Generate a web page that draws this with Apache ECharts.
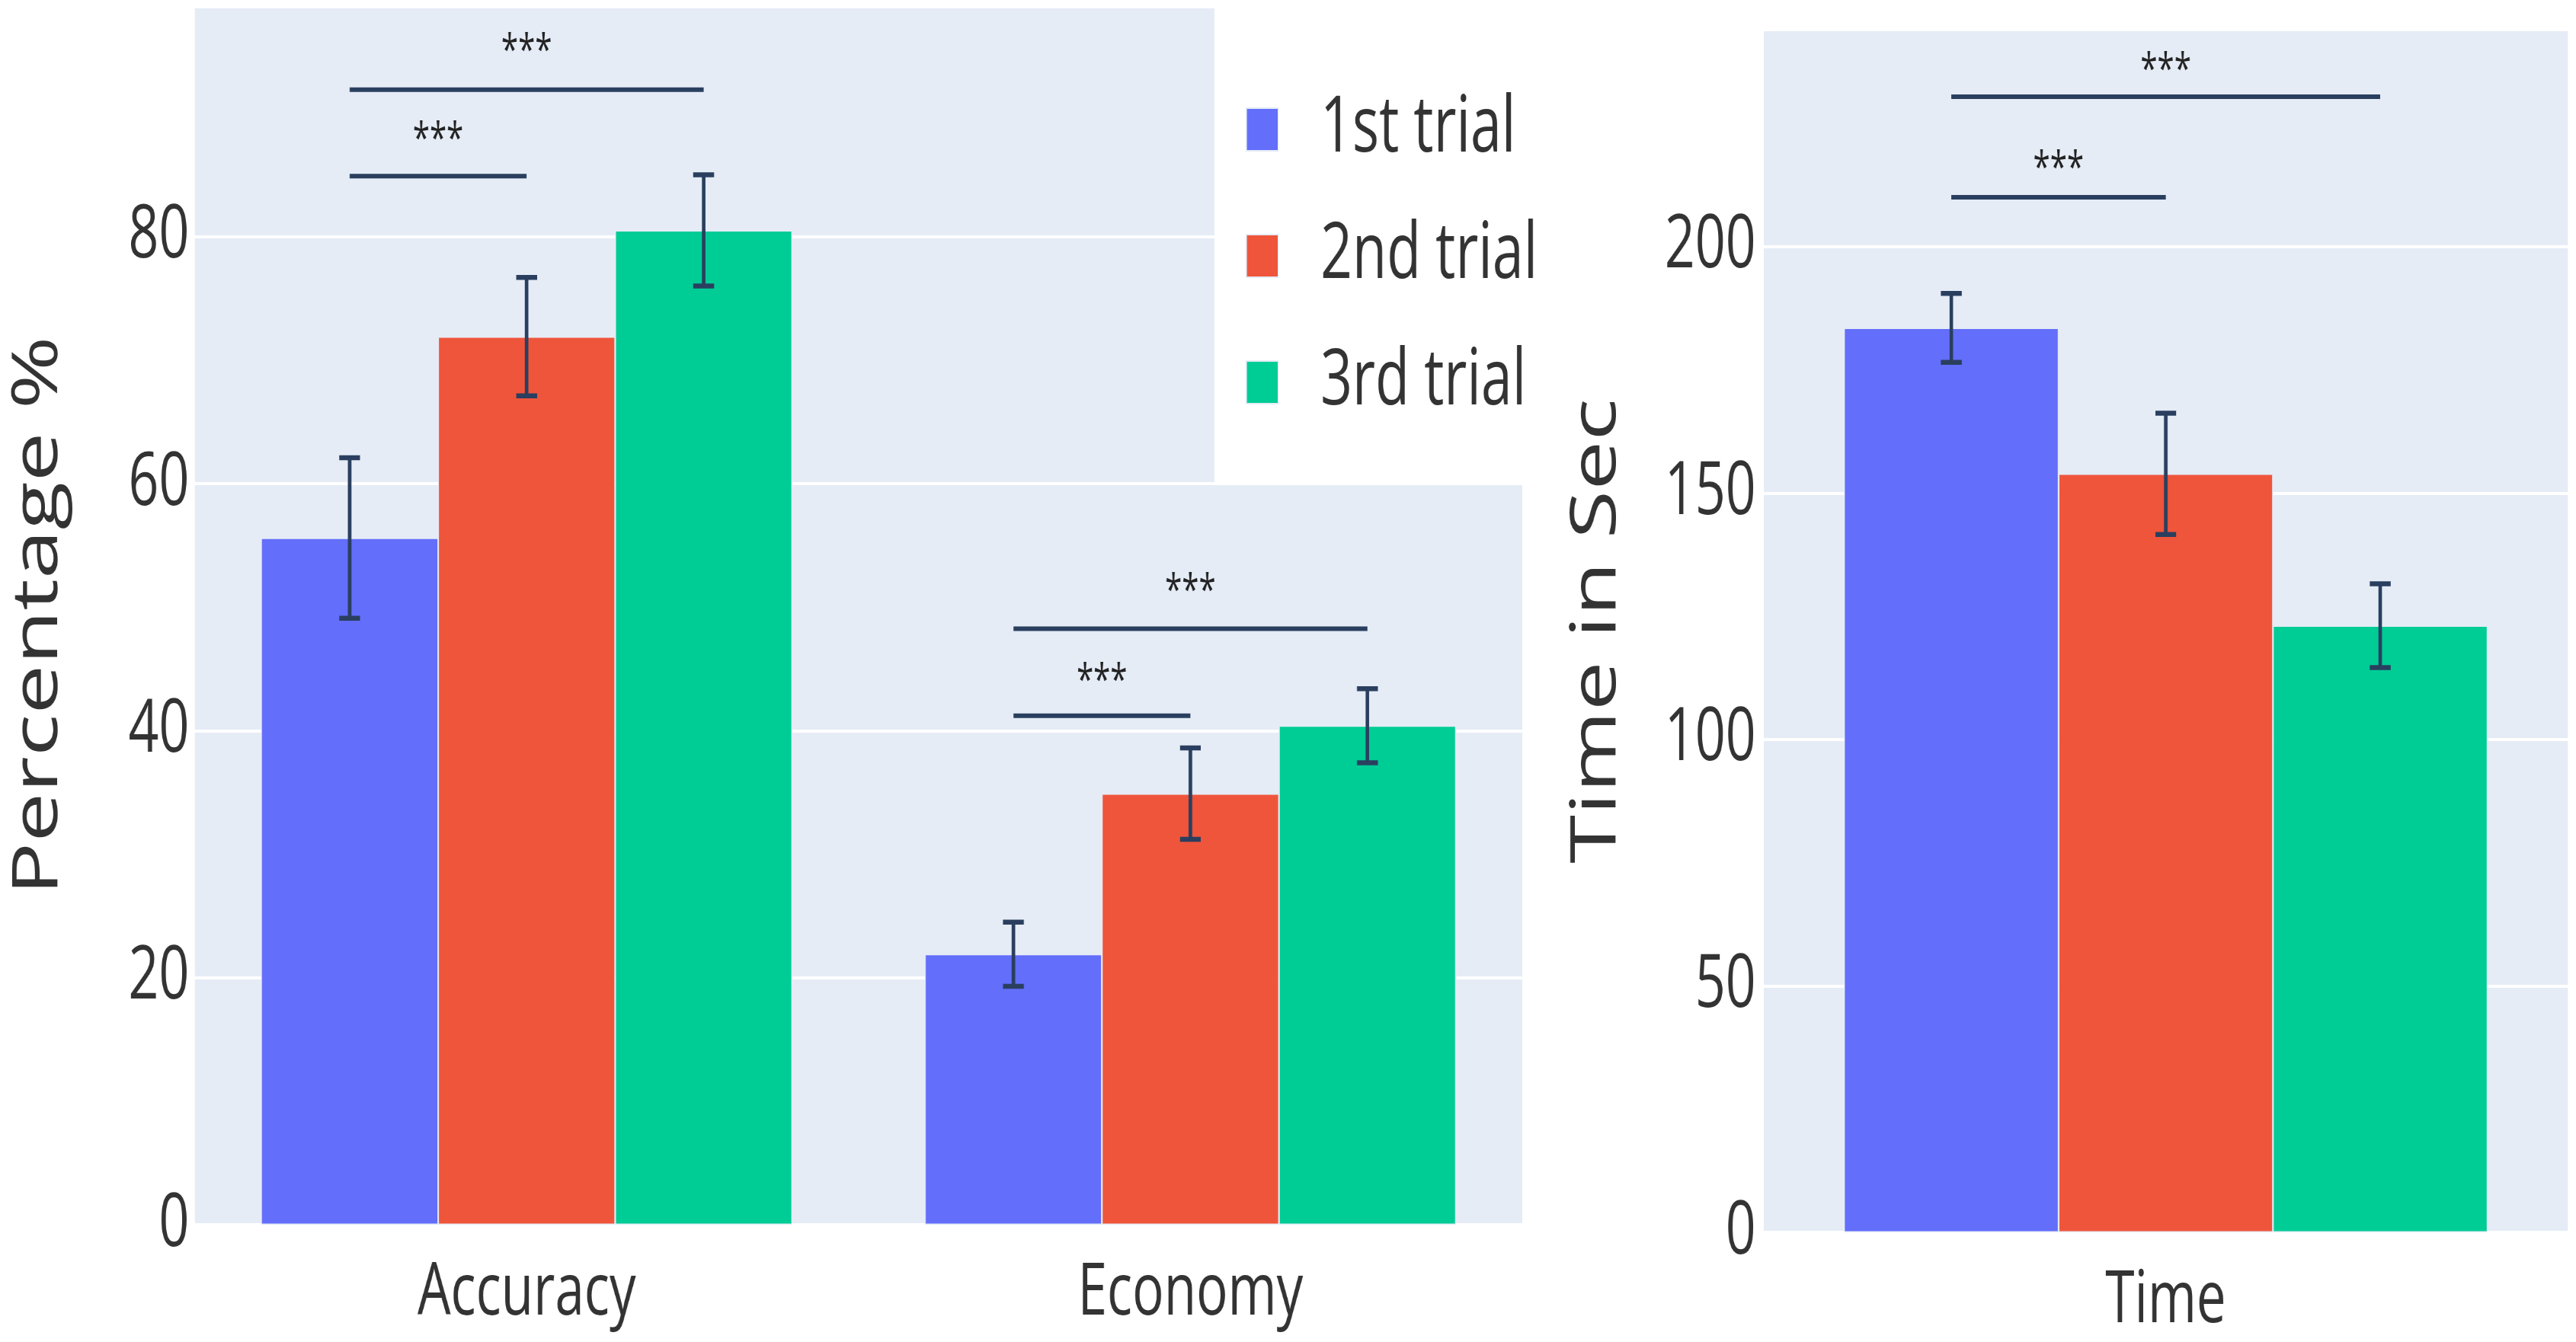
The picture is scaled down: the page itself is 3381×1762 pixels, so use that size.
<!DOCTYPE html>
<html>
<head>
<meta charset="utf-8">
<script src="https://cdn.jsdelivr.net/npm/echarts@6/dist/echarts.min.js"></script>
<style>
  html, body { margin: 0; padding: 0; background: #fff; overflow: hidden; width: 3381px; height: 1762px; }
  /* the source figure is squeezed horizontally, so the chart is drawn wider and scaled down */
  #main { width: 4696px; height: 1762px; transform: scaleX(0.72); transform-origin: 0 0; }
</style>
</head>
<body>
<div id="main"></div>
<script>
// data
const trials = ['1st trial', '2nd trial', '3rd trial'];
const leftCats = ['Accuracy', 'Economy'];
const rightCats = ['Time'];

// per trial: [Accuracy, Economy]
const pctMean = [[55.6, 21.9], [71.9, 34.9], [80.5, 40.4]];
const pctErr = [[6.5, 2.6], [4.8, 3.7], [4.5, 3.0]];

// per trial: [Time]
const timeMean = [[183.5], [153.9], [123.1]];
const timeErr = [[7.0], [12.3], [8.5]];

// significance brackets: [category, fromTrial, toTrial, lineY, starsY]
const pctSig = [
    [0, 0, 1, 84.9, 88.7],
    [0, 0, 2, 91.9, 95.8],
    [1, 0, 1, 41.2, 44.85],
    [1, 0, 2, 48.25, 52.1]
];
const timeSig = [
    [0, 0, 1, 210, 217.9],
    [0, 0, 2, 230.4, 237.8]
];

const colors = ['#636EFA', '#EF553B', '#00CC96'];
const ink = '#2a3f5f';
const font = 'Open Sans';

function errData(mean, err) {
    let out = [];
    mean.forEach(function (row, t) {
        row.forEach(function (v, c) {
            out.push([c, t, v - err[t][c], v + err[t][c]]);
        });
    });
    return out;
}

function barCenter(api, cat, trial) {
    const band = api.size([1, 0])[0];
    const bw = band * 0.8 / 3;
    return api.coord([cat, 0])[0] + (trial - 1) * bw;
}

function renderErr(params, api) {
    const x = barCenter(api, api.value(0), api.value(1));
    const lo = api.coord([api.value(0), api.value(2)])[1];
    const hi = api.coord([api.value(0), api.value(3)])[1];
    const cap = 19;
    const st = {stroke: ink, lineWidth: 6.5};
    return {
        type: 'group',
        children: [
            {type: 'line', shape: {x1: x, y1: lo, x2: x, y2: hi}, style: st},
            {type: 'line', shape: {x1: x - cap, y1: hi, x2: x + cap, y2: hi}, style: st},
            {type: 'line', shape: {x1: x - cap, y1: lo, x2: x + cap, y2: lo}, style: st}
        ]
    };
}

function renderSig(params, api) {
    const x1 = barCenter(api, api.value(0), api.value(1));
    const x2 = barCenter(api, api.value(0), api.value(2));
    const y = api.coord([api.value(0), api.value(3)])[1];
    const ty = api.coord([api.value(0), api.value(4)])[1];
    return {
        type: 'group',
        children: [
            {type: 'line', shape: {x1: x1, y1: y, x2: x2, y2: y}, style: {stroke: ink, lineWidth: 6}},
            {
                type: 'text', x: (x1 + x2) / 2, y: ty + 15,
                style: {text: '***', fontSize: 56, fontFamily: font, fill: '#222', align: 'center', verticalAlign: 'middle'}
            }
        ]
    };
}

const myChart = echarts.init(document.getElementById('main'));

let series = [];
trials.forEach(function (name, t) {
    series.push({
        name: name, type: 'bar', xAxisIndex: 0, yAxisIndex: 0,
        data: pctMean[t], barGap: '0%', barCategoryGap: '20%',
        itemStyle: {color: colors[t], borderColor: '#E5ECF6', borderWidth: 1.5}
    });
});
trials.forEach(function (name, t) {
    series.push({
        name: name, type: 'bar', xAxisIndex: 1, yAxisIndex: 1,
        data: timeMean[t], barGap: '0%', barCategoryGap: '20%',
        itemStyle: {color: colors[t], borderColor: '#E5ECF6', borderWidth: 1.5}
    });
});
series.push({
    type: 'custom', xAxisIndex: 0, yAxisIndex: 0, z: 5, silent: true,
    renderItem: renderErr, encode: {x: 0, y: [2, 3]}, data: errData(pctMean, pctErr)
});
series.push({
    type: 'custom', xAxisIndex: 1, yAxisIndex: 1, z: 5, silent: true,
    renderItem: renderErr, encode: {x: 0, y: [2, 3]}, data: errData(timeMean, timeErr)
});
series.push({
    type: 'custom', xAxisIndex: 0, yAxisIndex: 0, z: 5, silent: true,
    renderItem: renderSig, encode: {x: 0, y: [3, 4]}, data: pctSig
});
series.push({
    type: 'custom', xAxisIndex: 1, yAxisIndex: 1, z: 5, silent: true,
    renderItem: renderSig, encode: {x: 0, y: [3, 4]}, data: timeSig
});

const catAxis = {
    type: 'category',
    axisLine: {show: false},
    axisTick: {show: false},
    axisLabel: {fontSize: 96, margin: 43, color: '#333', fontFamily: font}
};
const valAxis = {
    type: 'value', min: 0,
    axisLine: {show: false},
    axisTick: {show: false},
    splitLine: {lineStyle: {color: '#fff', width: 4}},
    nameLocation: 'middle',
    nameTextStyle: {fontSize: 116, color: '#333', fontFamily: font}
};

const option = {
    animation: false,
    textStyle: {fontFamily: font},
    color: colors,
    grid: [
        {left: 355, right: 1921, top: 9, bottom: 154, show: true, backgroundColor: '#E5ECF6', borderWidth: 0},
        {left: 3215, right: 15, top: 39, bottom: 144, show: true, backgroundColor: '#E5ECF6', borderWidth: 0}
    ],
    legend: {
        data: trials,
        orient: 'vertical',
        left: 2214, top: 0,
        icon: 'rect',
        itemWidth: 58, itemHeight: 56, itemGap: 64,
        backgroundColor: '#fff',
        padding: [119, 60, 83, 57],
        textStyle: {fontSize: 102, lineHeight: 56, color: '#333', padding: [0, 0, 0, 72], fontFamily: font}
    },
    xAxis: [
        Object.assign({}, catAxis, {gridIndex: 0, data: leftCats}),
        Object.assign({}, catAxis, {gridIndex: 1, data: rightCats})
    ],
    yAxis: [
        Object.assign({}, valAxis, {
            gridIndex: 0, max: 98.6, interval: 20, name: 'Percentage %', nameGap: 226,
            axisLabel: {fontSize: 97, margin: 10, color: '#333', showMaxLabel: false, fontFamily: font}
        }),
        Object.assign({}, valAxis, {
            gridIndex: 1, max: 244, interval: 50, name: 'Time in Sec', nameGap: 245,
            axisLabel: {fontSize: 97, margin: 14, color: '#333', showMaxLabel: false, fontFamily: font}
        })
    ],
    series: series
};

myChart.setOption(option);
</script>
</body>
</html>
